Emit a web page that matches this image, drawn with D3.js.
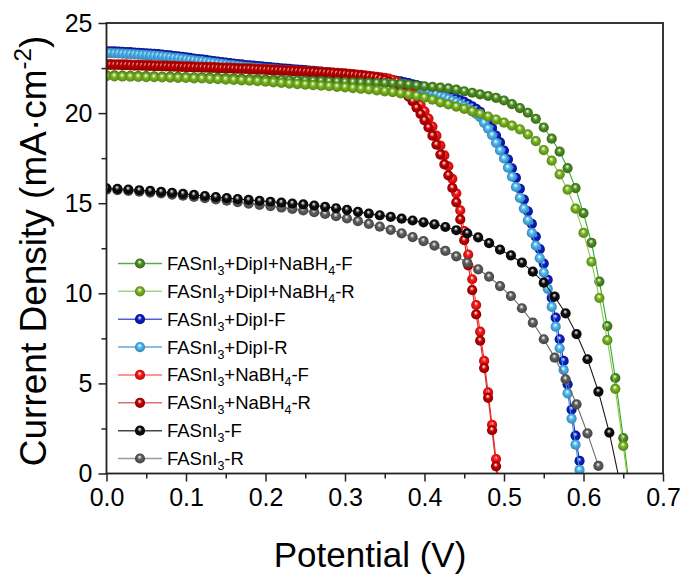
<!DOCTYPE html>
<html>
<head>
<meta charset="utf-8">
<script src="https://cdn.jsdelivr.net/npm/d3@7"></script>
<style>
  body { margin: 0; background: #fff; }
  svg { display: block; }
  text { font-family: Arial, "Liberation Sans", sans-serif; fill: #000; }
</style>
</head>
<body>
<svg id="chart" width="687" height="577"></svg>
<script>
// ---- J–V sweep data (current density in mA·cm^-2, sampled at a fixed voltage step) ----
const potentialTicks = [0, 0.1, 0.2, 0.3, 0.4, 0.5, 0.6, 0.7];
const potentialMinor = [0.05, 0.15, 0.25, 0.35, 0.45, 0.55, 0.65];
const currentTicks = [0, 5, 10, 15, 20, 25];
const currentMinor = [2.5, 7.5, 12.5, 17.5, 22.5];

const seriesLabels = [
  "FASnI_3+DipI+NaBH_4-F",
  "FASnI_3+DipI+NaBH_4-R",
  "FASnI_3+DipI-F",
  "FASnI_3+DipI-R",
  "FASnI_3+NaBH_4-F",
  "FASnI_3+NaBH_4-R",
  "FASnI_3-F",
  "FASnI_3-R"
];

// voltage step of each sweep (V)
const seriesSteps = [0.01, 0.01, 0.005, 0.005, 0.005, 0.005, 0.01375, 0.01375];

const jDipNaF = [
  22.10,22.09,22.08,22.07,22.06,22.05,22.04,22.03,22.02,22.01,
  22.00,21.99,21.98,21.97,21.96,21.94,21.93,21.91,21.89,21.88,
  21.86,21.85,21.84,21.82,21.81,21.79,21.78,21.77,21.75,21.74,
  21.72,21.71,21.69,21.68,21.67,21.66,21.64,21.62,21.58,21.53,
  21.49,21.45,21.41,21.37,21.30,21.21,21.13,21.04,20.95,20.85,
  20.70,20.50,20.28,20.02,19.68,19.20,18.58,17.86,16.95,15.84,
  14.45,12.80,10.65,8.18,5.30,1.97,-1.50
];
const jDipNaR = [
  22.05,22.04,22.03,22.02,22.01,22.00,21.99,21.98,21.97,21.96,
  21.95,21.93,21.92,21.90,21.88,21.86,21.84,21.82,21.80,21.77,
  21.74,21.71,21.67,21.64,21.61,21.58,21.55,21.52,21.49,21.46,
  21.43,21.39,21.35,21.31,21.26,21.21,21.16,21.10,21.03,20.95,
  20.86,20.74,20.60,20.48,20.36,20.24,20.10,19.96,19.81,19.64,
  19.47,19.30,19.10,18.82,18.45,17.95,17.36,16.60,15.75,14.70,
  13.35,11.75,9.74,7.40,4.70,1.53,-1.90
];
const jDipF = [
  23.43,23.43,23.42,23.41,23.40,23.39,23.38,23.36,23.35,23.33,
  23.32,23.30,23.29,23.27,23.25,23.22,23.20,23.17,23.15,23.12,
  23.09,23.06,23.03,23.00,22.98,22.95,22.92,22.89,22.86,22.83,
  22.80,22.77,22.75,22.72,22.70,22.67,22.65,22.63,22.61,22.59,
  22.57,22.55,22.53,22.51,22.49,22.47,22.45,22.43,22.42,22.40,
  22.38,22.36,22.34,22.32,22.30,22.28,22.26,22.24,22.22,22.20,
  22.18,22.15,22.13,22.10,22.08,22.05,22.03,22.00,21.97,21.94,
  21.91,21.87,21.83,21.79,21.76,21.71,21.66,21.60,21.55,21.49,
  21.42,21.35,21.28,21.20,21.12,21.05,20.97,20.89,20.80,20.71,
  20.62,20.50,20.38,20.24,20.07,19.78,19.50,19.17,18.75,18.37,
  17.92,17.43,16.93,16.40,15.80,15.20,14.55,13.85,13.15,12.45,
  11.65,10.75,9.75,8.65,7.45,6.25,4.95,3.55,2.10,0.70,
  -0.80
];
const jDipR = [
  23.33,23.33,23.32,23.31,23.30,23.29,23.28,23.26,23.25,23.23,
  23.22,23.20,23.19,23.17,23.15,23.12,23.10,23.07,23.05,23.02,
  22.99,22.96,22.93,22.90,22.88,22.85,22.82,22.79,22.76,22.73,
  22.70,22.67,22.65,22.62,22.60,22.57,22.55,22.53,22.51,22.49,
  22.47,22.45,22.43,22.41,22.39,22.37,22.35,22.33,22.32,22.30,
  22.28,22.26,22.24,22.22,22.20,22.18,22.16,22.14,22.12,22.10,
  22.08,22.05,22.03,22.00,21.98,21.95,21.93,21.90,21.87,21.84,
  21.81,21.77,21.73,21.69,21.64,21.59,21.54,21.48,21.41,21.35,
  21.28,21.21,21.12,21.04,20.96,20.87,20.79,20.69,20.60,20.49,
  20.38,20.26,20.12,19.96,19.77,19.46,19.14,18.77,18.35,17.93,
  17.48,16.97,16.47,15.90,15.30,14.70,14.05,13.35,12.65,11.95,
  11.15,10.25,9.25,8.15,6.95,5.75,4.45,3.05,1.60,0.20,
  -1.20
];
const jNaF = [
  22.72,22.72,22.71,22.71,22.70,22.70,22.69,22.68,22.68,22.67,
  22.66,22.66,22.65,22.64,22.64,22.63,22.62,22.62,22.61,22.60,
  22.59,22.59,22.58,22.57,22.57,22.56,22.55,22.55,22.54,22.53,
  22.52,22.52,22.51,22.50,22.49,22.49,22.48,22.47,22.46,22.45,
  22.44,22.43,22.42,22.41,22.40,22.39,22.38,22.37,22.36,22.35,
  22.34,22.33,22.32,22.30,22.29,22.28,22.26,22.25,22.23,22.21,
  22.20,22.18,22.16,22.14,22.12,22.10,22.07,22.04,22.01,21.99,
  21.96,21.91,21.84,21.75,21.64,21.46,21.28,21.05,20.80,20.45,
  20.10,19.70,19.25,18.75,18.20,17.65,17.05,16.35,15.55,14.60,
  13.45,12.15,10.78,9.35,7.87,6.25,4.50,2.70,0.80,-1.10
];
const jNaR = [
  22.68,22.68,22.67,22.67,22.66,22.66,22.65,22.64,22.64,22.63,
  22.62,22.62,22.61,22.60,22.60,22.59,22.58,22.58,22.57,22.56,
  22.55,22.55,22.54,22.53,22.53,22.52,22.51,22.51,22.50,22.49,
  22.48,22.48,22.47,22.46,22.45,22.45,22.44,22.43,22.42,22.41,
  22.40,22.39,22.38,22.37,22.36,22.35,22.34,22.33,22.32,22.31,
  22.30,22.29,22.28,22.26,22.25,22.24,22.22,22.21,22.19,22.17,
  22.16,22.14,22.12,22.10,22.08,22.06,22.03,22.00,21.97,21.91,
  21.84,21.75,21.64,21.51,21.36,21.14,20.92,20.65,20.30,19.95,
  19.60,19.20,18.75,18.25,17.70,17.15,16.55,15.85,15.05,14.10,
  12.95,11.55,10.18,8.83,7.37,5.85,4.20,2.40,0.40,-1.50
];
const jPristineF = [
  15.83,15.80,15.76,15.72,15.68,15.63,15.58,15.52,15.46,15.40,
  15.34,15.28,15.23,15.18,15.13,15.08,15.03,14.98,14.93,14.87,
  14.80,14.72,14.63,14.52,14.42,14.33,14.24,14.14,14.04,13.94,
  13.83,13.68,13.50,13.33,13.10,12.78,12.42,12.10,11.70,11.20,
  10.59,9.81,8.89,7.74,6.34,4.54,2.27,-0.60
];
const jPristineR = [
  15.75,15.72,15.68,15.64,15.59,15.54,15.48,15.42,15.35,15.28,
  15.21,15.14,15.06,14.98,14.91,14.84,14.76,14.68,14.60,14.50,
  14.40,14.28,14.15,14.00,13.85,13.70,13.52,13.33,13.12,12.90,
  12.65,12.35,12.05,11.70,11.33,10.92,10.40,9.85,9.17,8.37,
  7.45,6.43,5.23,3.84,2.23,0.42
];

const markerColors = ["#4e8f22", "#78b51e", "#0a1ec4", "#4cb8f4", "#ff1212", "#c40000", "#0c0c0c", "#5e5e5e"];
const lineColors   = ["#2ea82e", "#8cc63f", "#2436c8", "#3a8fd8", "#ff2a2a", "#d42a2a", "#1a1a1a", "#6a6a6a"];
const legendLineColors = ["#5aa85a", "#a9d18e", "#5560d0", "#6aa8d8", "#ff7070", "#e07070", "#444444", "#9a9a9a"];

const seriesValues = [jDipNaF, jDipNaR, jDipF, jDipR, jNaF, jNaR, jPristineF, jPristineR];
// stacking order of the curves (bottom to top)
const drawOrder = [2, 3, 4, 5, 0, 1, 7, 6];

// ---- layout ----
const svg = d3.select("#chart");
const x = d3.scaleLinear().domain([0, 0.7]).range([106.5, 663]);
const y = d3.scaleLinear().domain([0, 25]).range([473.5, 23]);

const series = seriesLabels.map((label, i) => ({
  label,
  marker: markerColors[i],
  line: lineColors[i],
  legendLine: legendLineColors[i],
  points: seriesValues[i].map((j, k) => [+(k * seriesSteps[i]).toFixed(5), j])
}));

const defs = svg.append("defs");
defs.append("clipPath").attr("id", "plot-clip")
  .append("rect")
  .attr("x", x(0)).attr("y", y(25))
  .attr("width", x(0.7) - x(0)).attr("height", y(0) - y(25));

// shaded ball markers
series.forEach((s, i) => {
  const base = d3.color(s.marker);
  const g = defs.append("radialGradient").attr("id", "ball-" + i)
    .attr("cx", "50%").attr("cy", "50%").attr("r", "50%")
    .attr("fx", "45%").attr("fy", "32%");
  g.append("stop").attr("offset", "0%").attr("stop-color", "#ffffff");
  g.append("stop").attr("offset", "16%").attr("stop-color", d3.interpolateRgb(base, "#ffffff")(0.65));
  g.append("stop").attr("offset", "45%").attr("stop-color", base.formatHex());
  g.append("stop").attr("offset", "100%").attr("stop-color", base.darker(0.9).formatHex());
});

// ---- curves ----
const plot = svg.append("g").attr("clip-path", "url(#plot-clip)");
const line = d3.line().x(d => x(d[0])).y(d => y(d[1]));
const R = 5.1;

drawOrder.forEach(i => {
  const s = series[i];
  const g = plot.append("g");
  g.append("path")
    .attr("d", line(s.points))
    .attr("fill", "none")
    .attr("stroke", s.line)
    .attr("stroke-width", 1.1);
  g.selectAll("circle").data(s.points).join("circle")
    .attr("cx", d => x(d[0]))
    .attr("cy", d => y(d[1]))
    .attr("r", R)
    .attr("fill", `url(#ball-${i})`);
});

// ---- frame and axes ----
svg.append("rect")
  .attr("x", x(0)).attr("y", y(25))
  .attr("width", x(0.7) - x(0)).attr("height", y(0) - y(25))
  .attr("fill", "none").attr("stroke", "#222").attr("stroke-width", 1.8);

const xAxis = svg.append("g").attr("transform", `translate(0,${y(0)})`)
  .call(d3.axisBottom(x).tickValues(potentialTicks).tickSize(8).tickPadding(7).tickFormat(d3.format(".1f")));
const xMinor = svg.append("g").attr("transform", `translate(0,${y(0)})`)
  .call(d3.axisBottom(x).tickValues(potentialMinor).tickSize(5).tickFormat(""));
const yAxis = svg.append("g").attr("transform", `translate(${x(0)},0)`)
  .call(d3.axisLeft(y).tickValues(currentTicks).tickSize(8).tickPadding(6));
const yMinor = svg.append("g").attr("transform", `translate(${x(0)},0)`)
  .call(d3.axisLeft(y).tickValues(currentMinor).tickSize(5).tickFormat(""));

[xAxis, xMinor, yAxis, yMinor].forEach(a => {
  a.select(".domain").remove();
  a.selectAll(".tick line").attr("stroke", "#222").attr("stroke-width", 1.5);
  a.selectAll(".tick text").attr("font-size", 25).attr("fill", "#000")
    .attr("font-family", "Arial, 'Liberation Sans', sans-serif");
});

// ---- axis titles ----
svg.append("text")
  .attr("x", 370).attr("y", 567)
  .attr("text-anchor", "middle")
  .attr("font-size", 35)
  .text("Potential (V)");

const yTitle = svg.append("text")
  .attr("transform", "translate(46,251) rotate(-90)")
  .attr("text-anchor", "middle")
  .attr("font-size", 37);
yTitle.append("tspan").text("Current Density (mA·cm");
yTitle.append("tspan").attr("font-size", 24).attr("dy", -15).text("-2");
yTitle.append("tspan").attr("dy", 15).text(")");

// ---- legend ----
function addLabel(sel, str) {
  const parts = str.split(/_(\d)/);
  parts.forEach((p, i) => {
    if (!p) return;
    if (i % 2 === 1) sel.append("tspan").attr("font-size", 12.5).attr("dy", 5).text(p);
    else sel.append("tspan").attr("dy", i > 0 ? -5 : 0).text(p);
  });
}

const legend = svg.append("g");
const rowY = d3.scalePoint().domain(d3.range(series.length)).range([263.5, 458.5]);
series.forEach((s, i) => {
  const row = legend.append("g").attr("transform", `translate(0,${rowY(i)})`);
  row.append("line").attr("x1", 118).attr("x2", 162).attr("y1", 0).attr("y2", 0)
    .attr("stroke", s.legendLine).attr("stroke-width", 1.5);
  row.append("circle").attr("cx", 140).attr("cy", 0).attr("r", R).attr("fill", `url(#ball-${i})`);
  const t = row.append("text").attr("x", 167).attr("y", 6.5).attr("font-size", 18.5);
  addLabel(t, s.label);
});
</script>
</body>
</html>
